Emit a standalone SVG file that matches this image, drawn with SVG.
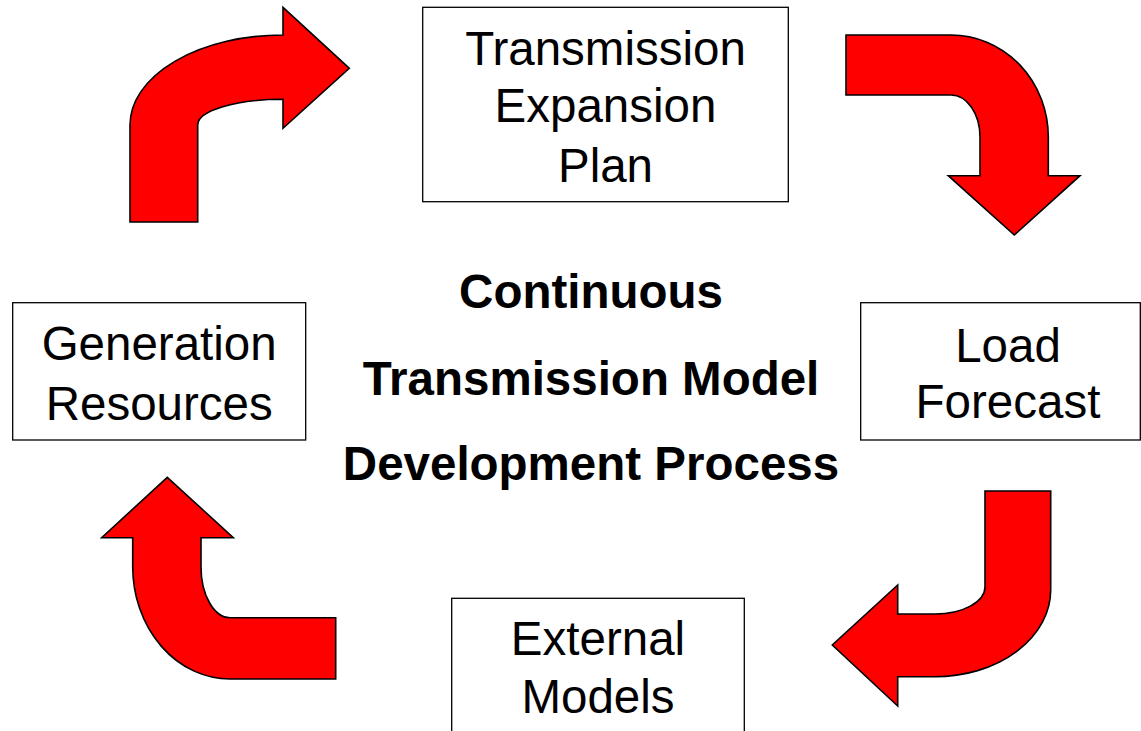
<svg xmlns="http://www.w3.org/2000/svg" width="1141" height="731" viewBox="0 0 1141 731">
<style>
.box{fill:#fff;stroke:#000;stroke-width:1.3}
.arr{fill:#ff0000;stroke:#000;stroke-width:1.6;stroke-linejoin:miter}
.t{font-family:"Liberation Sans",Arial,sans-serif;font-size:47.5px;fill:#000;text-anchor:middle}
.b{font-family:"Liberation Sans",Arial,sans-serif;font-size:47.5px;font-weight:bold;fill:#000;text-anchor:middle}
</style>
<rect width="1141" height="731" fill="#fff"/>
<g id="connectors">
<path class="arr" d="M130,222 L130,125 A153,90 0 0 1 283,35 L283,7.3 L349.3,68.3 L283,128.3 L283,99.3 A85.3,25.7 0 0 0 197.7,125 L197.7,222 Z"/>
<path class="arr" d="M846,35 L951,35 A97.3,102 0 0 1 1048.3,137 L1048.3,175.7 L1080,175.7 L1014.3,235 L948.3,175.7 L980,175.7 L980,137 A29,42 0 0 0 951,95 L846,95 Z"/>
<path class="arr" d="M985,491 L1050.7,491 L1050.7,590 A115.7,86.7 0 0 1 935,676.7 L897.7,676.7 L897.7,706 L832.3,645 L897.7,585 L897.7,614 L935,614 A50,27 0 0 0 985,587 Z"/>
<path class="arr" d="M167.3,477.3 L233.3,537.7 L201,537.7 L201,566.7 A29,51 0 0 0 230,617.7 L335.7,617.7 L335.7,679 L230,679 A97.3,112.3 0 0 1 132.7,566.7 L132.7,537.7 L101.7,537.7 Z"/>
</g>
<g id="node-tep">
<rect class="box" x="422.7" y="7.3" width="365.6" height="194.4"/>
<text class="t" x="605.5" y="65">Transmission</text>
<text class="t" x="605.5" y="122">Expansion</text>
<text class="t" x="605.5" y="181.5">Plan</text>
</g>
<g id="node-gen">
<rect class="box" x="12.7" y="302.7" width="293" height="137.3"/>
<text class="t" x="159.2" y="360">Generation</text>
<text class="t" x="159.2" y="420">Resources</text>
</g>
<g id="node-load">
<rect class="box" x="860.7" y="302.7" width="279.6" height="137.3"/>
<text class="t" x="1008" y="361.5">Load</text>
<text class="t" x="1008" y="418">Forecast</text>
</g>
<g id="node-ext">
<rect class="box" x="451.7" y="598.3" width="292.6" height="140"/>
<text class="t" x="598" y="655">External</text>
<text class="t" x="598" y="713.3">Models</text>
</g>
<g id="center-title">
<text class="b" x="591" y="308.3">Continuous</text>
<text class="b" x="591" y="395">Transmission Model</text>
<text class="b" x="591" y="480">Development Process</text>
</g>
</svg>
